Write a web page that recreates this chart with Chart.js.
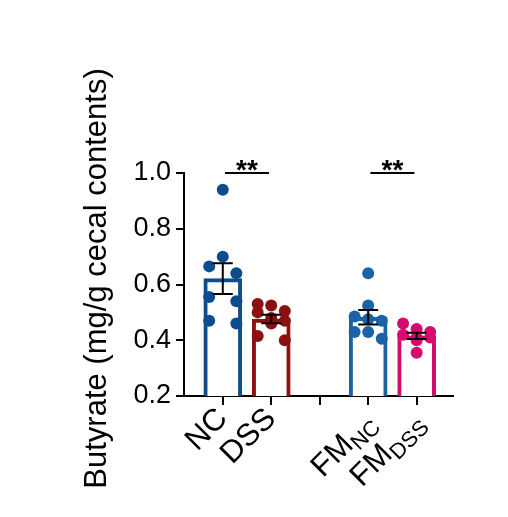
<!DOCTYPE html>
<html>
<head>
<meta charset="utf-8">
<script src="https://cdn.jsdelivr.net/npm/chart.js@4"></script>
<style>
  html, body { margin: 0; padding: 0; background: #fff; }
</style>
</head>
<body>
<canvas id="butyrateChart" width="508" height="517"></canvas>
<script>
// Butyrate, individual animals (mg/g cecal contents)
const groupNames = ['NC', 'DSS', '', 'FM', 'FM'];
const groupSubs = ['', '', '', 'NC', 'DSS'];
const groupPos = [1, 2, 3, 4, 5];

const ncValues = [0.94, 0.70, 0.665, 0.64, 0.555, 0.54, 0.47, 0.46];
const dssValues = [0.53, 0.525, 0.505, 0.50, 0.48, 0.47, 0.46, 0.415, 0.40];
const fmNcValues = [0.64, 0.525, 0.485, 0.475, 0.47, 0.43, 0.43, 0.405];
const fmDssValues = [0.46, 0.44, 0.43, 0.42, 0.41, 0.41, 0.40, 0.355];

const yTicks = [0.2, 0.4, 0.6, 0.8, 1.0];
const yTitle = 'Butyrate (mg/g cecal contents)';
const sigPairs = [[1, 2, '**'], [4, 5, '**']];
const sigLevel = 1.0;

const FONT = '"Liberation Sans", Arial, sans-serif';
const JITTER = 0.28;   // column spacing of the dots, x units
const ROW_GAP = 0.032; // values closer than this share a row

const groups = [
    { pos: 1, values: ncValues, color: '#0d4c8e' },
    { pos: 2, values: dssValues, color: '#8c1010' },
    { pos: 4, values: fmNcValues, color: '#1963a6' },
    { pos: 5, values: fmDssValues, color: '#d60b6f' }
];

function mean(arr) {
    return arr.reduce((a, b) => a + b, 0) / arr.length;
}

function sem(arr) {
    const m = mean(arr);
    const v = arr.reduce((a, b) => a + (b - m) * (b - m), 0) / (arr.length - 1);
    return Math.sqrt(v / arr.length);
}

// spread dots of similar value side by side, prism style
function swarm(values, center) {
    const sorted = values.slice().sort((a, b) => b - a);
    const pts = [];
    let row = [];
    const flush = () => {
        const n = row.length;
        row.forEach((v, i) => {
            const off = n === 2 ? (i ? 1 : -1) : i - (n - 1) / 2;
            pts.push({ x: center + off * JITTER, y: v });
        });
        row = [];
    };
    sorted.forEach(v => {
        if (row.length && (row[0] - v > ROW_GAP || row.length === 3)) flush();
        row.push(v);
    });
    flush();
    return pts;
}

const extras = {
    id: 'extras',
    afterDatasetsDraw(chart) {
        const { ctx, scales: { x, y } } = chart;
        ctx.save();
        ctx.strokeStyle = '#000';
        ctx.fillStyle = '#000';
        ctx.lineWidth = 2;

        // mean +/- SEM
        groups.forEach(g => {
            const m = mean(g.values);
            const e = sem(g.values);
            const px = x.getPixelForValue(g.pos);
            const top = y.getPixelForValue(m + e);
            const bot = y.getPixelForValue(m - e);
            ctx.beginPath();
            ctx.moveTo(px, top);
            ctx.lineTo(px, bot);
            ctx.moveTo(px - 10, top);
            ctx.lineTo(px + 10, top);
            ctx.moveTo(px - 10, bot);
            ctx.lineTo(px + 10, bot);
            ctx.stroke();
        });

        // significance marks
        sigPairs.forEach(([a, b, label]) => {
            const mid = x.getPixelForValue((a + b) / 2);
            const py = y.getPixelForValue(sigLevel);
            ctx.beginPath();
            ctx.moveTo(mid - 22, py);
            ctx.lineTo(mid + 22, py);
            ctx.stroke();
            ctx.font = 'bold 28px ' + FONT;
            ctx.textAlign = 'center';
            ctx.textBaseline = 'alphabetic';
            ctx.fillText(label, mid, py + 6);
        });

        // rotated category labels with subscripts
        const mainFont = '31px ' + FONT;
        const subFont = '22px ' + FONT;
        groupPos.forEach((p, i) => {
            const main = groupNames[i];
            const sub = groupSubs[i];
            if (!main) return;
            ctx.save();
            ctx.translate(x.getPixelForValue(p) + (sub ? 3 : 0), x.top + (sub ? 22 : 18));
            ctx.rotate(-Math.PI / 4);
            ctx.font = mainFont;
            const wm = ctx.measureText(main).width;
            ctx.font = subFont;
            const ws = sub ? ctx.measureText(sub).width : 0;
            ctx.textAlign = 'left';
            ctx.textBaseline = 'middle';
            ctx.font = mainFont;
            ctx.fillText(main, -(wm + ws), 0);
            if (sub) {
                ctx.font = subFont;
                ctx.fillText(sub, -ws, 9);
            }
            ctx.restore();
        });

        // y title, sitting a bit above the axis centre like the original
        ctx.save();
        ctx.translate(97, (y.top + y.bottom) / 2 - 6);
        ctx.rotate(-Math.PI / 2);
        ctx.font = '31px ' + FONT;
        ctx.textAlign = 'center';
        ctx.textBaseline = 'middle';
        ctx.fillText(yTitle, 0, 0);
        ctx.restore();

        ctx.restore();
    }
};

const ctx = document.getElementById('butyrateChart').getContext('2d');
const butyrateChart = new Chart(ctx, {
    type: 'bar',
    data: {
        datasets: [
            {
                type: 'bar',
                data: groups.map(g => ({ x: g.pos, y: mean(g.values) })),
                backgroundColor: '#fff',
                borderColor: groups.map(g => g.color),
                borderWidth: 4,
                borderSkipped: 'bottom',
                barThickness: 38,
                order: 2
            },
            ...groups.map(g => ({
                type: 'scatter',
                data: swarm(g.values, g.pos),
                backgroundColor: g.color,
                borderWidth: 0,
                pointRadius: 6,
                order: 1
            }))
        ]
    },
    options: {
        responsive: false,
        animation: false,
        layout: { padding: { left: 76, top: 173, right: 55, bottom: 0 } },
        plugins: {
            legend: { display: false },
            tooltip: { enabled: false }
        },
        scales: {
            x: {
                type: 'linear',
                min: 0.2,
                max: 5.75,
                offset: false,
                afterBuildTicks: s => { s.ticks = groupPos.map(v => ({ value: v })); },
                afterFit: s => { s.height = 121; },
                ticks: { callback: () => '' },
                grid: {
                    display: true,
                    offset: false,
                    drawOnChartArea: false,
                    drawTicks: true,
                    tickLength: 9,
                    color: '#000',
                    lineWidth: 2
                },
                border: { color: '#000', width: 2 }
            },
            y: {
                min: 0.2,
                max: 1.0,
                beginAtZero: false,
                afterBuildTicks: s => { s.ticks = yTicks.map(v => ({ value: v })); },
                afterFit: s => { s.width = 108; },
                ticks: {
                    callback: v => v.toFixed(1),
                    font: { family: FONT, size: 27 },
                    color: '#000',
                    padding: 5
                },
                grid: {
                    drawOnChartArea: false,
                    tickLength: 8,
                    color: '#000',
                    lineWidth: 2
                },
                border: { color: '#000', width: 2 }
            }
        }
    },
    plugins: [extras]
});
</script>
</body>
</html>
